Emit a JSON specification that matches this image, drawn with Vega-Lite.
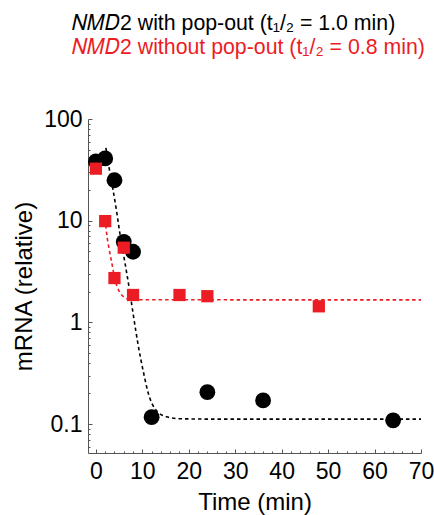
{
  "$schema": "https://vega.github.io/schema/vega-lite/v6.json",
  "width": 333,
  "height": 334,
  "autosize": {"type": "none"},
  "padding": {"left": 88, "top": 119, "right": 13, "bottom": 62},
  "background": "white",
  "config": {"view": {"stroke": null}, "font": "Liberation Sans", "axis": {"grid": false, "titleFontWeight": "normal"}},
  "title": {
    "text": "𝑁𝑀𝐷2 with pop-out (t₁/₂ = 1.0 min)",
    "subtitle": "𝑁𝑀𝐷2 without pop-out (t₁/₂ = 0.8 min)",
    "anchor": "start",
    "frame": "group",
    "dx": -16,
    "offset": 50,
    "font": "Liberation Sans",
    "fontSize": 21.3,
    "fontWeight": "normal",
    "color": "#000000",
    "subtitleFont": "Liberation Sans",
    "subtitleFontSize": 21.3,
    "subtitleColor": "#ec1c24",
    "subtitlePadding": 2
  },
  "datasets": {
    "points": [
      {"series": "with", "t": 0, "v": 38.3},
      {"series": "with", "t": 2, "v": 41},
      {"series": "with", "t": 4, "v": 25},
      {"series": "with", "t": 6, "v": 6.2},
      {"series": "with", "t": 8, "v": 4.95},
      {"series": "with", "t": 12, "v": 0.117},
      {"series": "with", "t": 24, "v": 0.206},
      {"series": "with", "t": 36, "v": 0.171},
      {"series": "with", "t": 64, "v": 0.109},
      {"series": "without", "t": 0, "v": 32.5},
      {"series": "without", "t": 2, "v": 9.9},
      {"series": "without", "t": 4, "v": 2.73},
      {"series": "without", "t": 6, "v": 5.43},
      {"series": "without", "t": 8, "v": 1.86},
      {"series": "without", "t": 18, "v": 1.86},
      {"series": "without", "t": 24, "v": 1.81},
      {"series": "without", "t": 48, "v": 1.44}
    ],
    "fits": [
      {"series": "with", "t": 2.15, "v": 52},
      {"series": "with", "t": 2.9, "v": 32},
      {"series": "with", "t": 3.7, "v": 20},
      {"series": "with", "t": 4.5, "v": 12},
      {"series": "with", "t": 5.2, "v": 7.3},
      {"series": "with", "t": 6.2, "v": 4.0},
      {"series": "with", "t": 7.3, "v": 2.0},
      {"series": "with", "t": 8.1, "v": 1.15},
      {"series": "with", "t": 9.1, "v": 0.6},
      {"series": "with", "t": 10.2, "v": 0.33},
      {"series": "with", "t": 11.3, "v": 0.2},
      {"series": "with", "t": 12.7, "v": 0.142},
      {"series": "with", "t": 15.2, "v": 0.118},
      {"series": "with", "t": 18, "v": 0.113},
      {"series": "with", "t": 25, "v": 0.112},
      {"series": "with", "t": 70, "v": 0.112},
      {"series": "without", "t": 2.0, "v": 10.5},
      {"series": "without", "t": 2.3, "v": 7.6},
      {"series": "without", "t": 2.87, "v": 5.2},
      {"series": "without", "t": 3.4, "v": 3.9},
      {"series": "without", "t": 4.1, "v": 2.65},
      {"series": "without", "t": 5.2, "v": 1.96},
      {"series": "without", "t": 6.25, "v": 1.75},
      {"series": "without", "t": 7.3, "v": 1.69},
      {"series": "without", "t": 9.5, "v": 1.67},
      {"series": "without", "t": 70, "v": 1.665}
    ]
  },
  "layer": [
    {
      "data": {"name": "fits"},
      "mark": {"type": "line", "strokeDash": [3.5, 3], "strokeWidth": 1.6, "interpolate": "monotone"},
      "encoding": {
        "x": {
          "field": "t", "type": "quantitative",
          "scale": {"domain": [-1.7, 70], "nice": false, "zero": false},
          "axis": {
            "values": [0, 10, 20, 30, 40, 50, 60, 70],
            "title": "Time (min)",
            "tickSize": -4, "tickColor": "#555555", "domainColor": "#555555",
            "labelFlush": false, "labelFont": "Liberation Sans", "labelFontSize": 23, "labelColor": "#000000",
            "labelPadding": 11,
            "titleFont": "Liberation Sans", "titleFontSize": 24, "titleFontWeight": "normal", "titleColor": "#000000",
            "titlePadding": 7
          }
        },
        "y": {
          "field": "v", "type": "quantitative",
          "scale": {"type": "log", "domain": [0.052, 100], "nice": false},
          "axis": {
            "values": [0.1, 1, 10, 100], "format": "~g",
            "title": "mRNA (relative)",
            "tickSize": -4, "tickColor": "#555555", "domainColor": "#555555",
            "labelFlush": false, "labelFont": "Liberation Sans", "labelFontSize": 23, "labelColor": "#000000",
            "labelPadding": 10,
            "titleFont": "Liberation Sans", "titleFontSize": 24, "titleFontWeight": "normal", "titleColor": "#000000",
            "titlePadding": 7
          }
        },
        "color": {"field": "series", "type": "nominal", "scale": {"domain": ["with", "without"], "range": ["#000000", "#ec1c24"]}, "legend": null}
      }
    },
    {
      "data": {"name": "points"},
      "transform": [{"filter": "datum.series === 'with'"}],
      "mark": {"type": "point", "shape": "circle", "filled": true, "size": 250, "opacity": 1},
      "encoding": {
        "x": {
          "field": "t", "type": "quantitative",
          "axis": {
            "orient": "bottom",
            "values": [2, 4, 6, 8, 12, 14, 16, 18, 22, 24, 26, 28, 32, 34, 36, 38, 42, 44, 46, 48, 52, 54, 56, 58, 62, 64, 66, 68],
            "tickSize": -2, "tickColor": "#555555", "domain": false, "labels": false, "title": null
          }
        },
        "y": {
          "field": "v", "type": "quantitative",
          "axis": {
            "orient": "left",
            "values": [0.06, 0.07, 0.08, 0.09, 0.2, 0.3, 0.4, 0.5, 0.6, 0.7, 0.8, 0.9, 2, 3, 4, 5, 6, 7, 8, 9, 20, 30, 40, 50, 60, 70, 80, 90],
            "tickSize": -2, "tickColor": "#555555", "domain": false, "labels": false, "title": null
          }
        },
        "color": {"field": "series", "type": "nominal", "legend": null}
      }
    },
    {
      "data": {"name": "points"},
      "transform": [{"filter": "datum.series === 'without'"}],
      "mark": {"type": "point", "shape": "square", "filled": true, "size": 150, "opacity": 1},
      "encoding": {
        "x": {"field": "t", "type": "quantitative", "axis": null},
        "y": {"field": "v", "type": "quantitative", "axis": null},
        "color": {"field": "series", "type": "nominal", "legend": null}
      }
    }
  ],
  "resolve": {"axis": {"x": "independent", "y": "independent"}}
}
